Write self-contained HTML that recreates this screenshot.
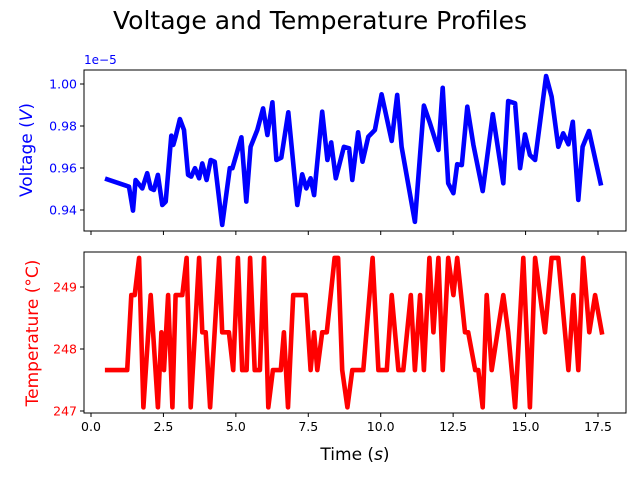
<!DOCTYPE html>
<html><head><meta charset="utf-8"><style>
body{margin:0;background:#fff}
svg{display:block;font-family:"DejaVu Sans","Liberation Sans",sans-serif}
</style></head><body>
<svg id="chart" width="640" height="480" xmlns="http://www.w3.org/2000/svg">
<rect width="640" height="480" fill="#fff"/>
<text x="320" y="29" font-size="25" text-anchor="middle" textLength="414" lengthAdjust="spacingAndGlyphs">Voltage and Temperature Profiles</text>
<g id="top"></g>
<g id="bot"></g>
<text x="355" y="460" font-size="17" text-anchor="middle">Time (<tspan font-style="italic">s</tspan>)</text>
<text transform="translate(32,150) rotate(-90)" font-size="17" fill="blue" text-anchor="middle">Voltage (<tspan font-style="italic">V</tspan>)</text>
<text transform="translate(38,333) rotate(-90)" font-size="17" fill="red" text-anchor="middle">Temperature (°C)</text>
<text x="84" y="64" font-size="12" fill="blue">1e−5</text>
</svg>
<script>
const vTime=[0.56,1.31,1.45,1.54,1.77,1.94,2.06,2.17,2.31,2.46,2.58,2.77,2.84,2.92,3.07,3.21,3.35,3.46,3.59,3.73,3.84,3.99,4.13,4.27,4.53,4.79,4.88,5.19,5.36,5.51,5.74,5.94,6.09,6.26,6.40,6.57,6.81,7.12,7.29,7.43,7.58,7.70,7.98,8.16,8.29,8.45,8.73,8.91,9.02,9.22,9.37,9.57,9.80,10.03,10.38,10.57,10.72,11.18,11.49,11.70,11.99,12.14,12.33,12.51,12.64,12.80,12.99,13.20,13.52,13.87,14.23,14.40,14.64,14.81,14.98,15.15,15.33,15.71,15.90,16.13,16.30,16.48,16.63,16.82,16.97,17.19,17.59];
const voltage=[0.9546,0.9511,0.9397,0.9543,0.9503,0.9575,0.9503,0.9495,0.9567,0.9424,0.9440,0.9754,0.9710,0.9749,0.9833,0.9781,0.9567,0.9559,0.9599,0.9551,0.9622,0.9543,0.9638,0.9630,0.9329,0.9599,0.9599,0.9746,0.9440,0.9701,0.9781,0.9884,0.9757,0.9913,0.9638,0.9649,0.9865,0.9424,0.9570,0.9503,0.9551,0.9471,0.9868,0.9638,0.9722,0.9551,0.9701,0.9694,0.9543,0.9770,0.9630,0.9749,0.9781,0.9951,0.9729,0.9948,0.9701,0.9344,0.9897,0.9813,0.9686,0.9982,0.9527,0.9480,0.9618,0.9614,0.9892,0.9710,0.9490,0.9856,0.9527,0.9919,0.9908,0.9599,0.9760,0.9662,0.9638,1.0038,0.9940,0.9701,0.9765,0.9713,0.9820,0.9448,0.9701,0.9776,0.9527];
const tTime=[0.56,1.25,1.39,1.51,1.66,1.81,2.06,2.31,2.43,2.52,2.66,2.81,2.92,3.15,3.30,3.44,3.73,3.84,3.96,4.11,4.42,4.53,4.76,4.91,5.07,5.22,5.37,5.49,5.65,5.83,5.97,6.12,6.28,6.55,6.66,6.80,6.98,7.41,7.58,7.70,7.81,7.98,8.14,8.41,8.53,8.67,8.85,9.02,9.40,9.72,9.92,10.21,10.38,10.61,10.78,11.04,11.18,11.36,11.49,11.68,11.82,11.99,12.14,12.33,12.51,12.64,12.91,13.02,13.26,13.37,13.52,13.66,13.83,14.23,14.40,14.64,14.92,15.15,15.33,15.67,15.90,16.13,16.48,16.65,16.82,16.99,17.20,17.40,17.63];
const temperature=[247.66,247.66,248.87,248.87,249.47,247.06,248.87,247.06,248.27,247.66,248.87,247.06,248.87,248.87,249.47,247.06,249.47,248.27,248.27,247.06,249.47,248.27,248.27,247.66,249.47,247.66,247.66,249.47,247.66,247.66,249.47,247.06,247.66,247.66,248.27,247.06,248.87,248.87,247.66,248.27,247.66,248.27,248.27,249.47,249.47,247.66,247.06,247.66,247.66,249.47,247.66,247.66,248.87,247.66,247.66,248.87,247.66,248.87,247.66,249.47,248.27,249.47,247.66,249.47,248.87,249.47,248.27,248.27,247.66,247.66,247.06,248.87,247.66,248.87,248.27,247.06,249.47,247.06,249.47,248.27,249.47,249.47,247.66,248.87,247.66,249.47,248.27,248.87,248.27];
const xTicks=[0,2.5,5,7.5,10,12.5,15,17.5];
const xTickLabels=["0.0","2.5","5.0","7.5","10.0","12.5","15.0","17.5"];
const vTicks=[0.94,0.96,0.98,1.00];
const vTickLabels=["0.94","0.96","0.98","1.00"];
const tTicks=[247,248,249];
const tTickLabels=["247","248","249"];

const NS="http://www.w3.org/2000/svg";
const L=84,R=626;
const xs=t=>91+t*(507/17.5);
const yV=v=>210-(v-0.94)*2100;
const yT=v=>411-(v-247)*62;
function mk(tag,attrs,parent){const e=document.createElementNS(NS,tag);for(const k in attrs)e.setAttribute(k,attrs[k]);parent.appendChild(e);return e;}
function panel(g,top,bot,ticks,labels,yf,color,times,vals,showX,nm){
  g=document.getElementById(g);
  const line=mk('polyline',{points:times.map((t,i)=>xs(t).toFixed(1)+','+yf(vals[i]).toFixed(1)).join(' '),fill:'none',stroke:color,'stroke-width':4.6,'stroke-linejoin':'round','stroke-linecap':'square'},g);
  
  
  const fr=mk('rect',{x:L,y:top,width:R-L,height:bot-top,fill:'none',stroke:'#000','stroke-width':1},g);
  
  
  ticks.forEach((v,i)=>{
    const y=yf(v);
    const tk=mk('line',{x1:L-4,x2:L,y1:y,y2:y,stroke:'#000'},g);
    
    
    const tx=mk('text',{x:L-7,y:y+4.5,'font-size':12.5,'text-anchor':'end',fill:color},g);
    tx.textContent=labels[i];
    
    
  });
  xTicks.forEach((t,i)=>{
    const x=xs(t);
    const tk=mk('line',{x1:x,x2:x,y1:bot,y2:bot+4,stroke:'#000'},g);
    
    
    if(showX){
      const tx=mk('text',{x:x,y:bot+18,'font-size':12.5,'text-anchor':'middle'},g);
      tx.textContent=xTickLabels[i];
      
      
    }
  });
}
panel('top',70,231,vTicks,vTickLabels,yV,'blue',vTime,voltage,false,'voltage');
panel('bot',252,413,tTicks,tTickLabels,yT,'red',tTime,temperature,true,'temperature');
</script>
</body></html>
